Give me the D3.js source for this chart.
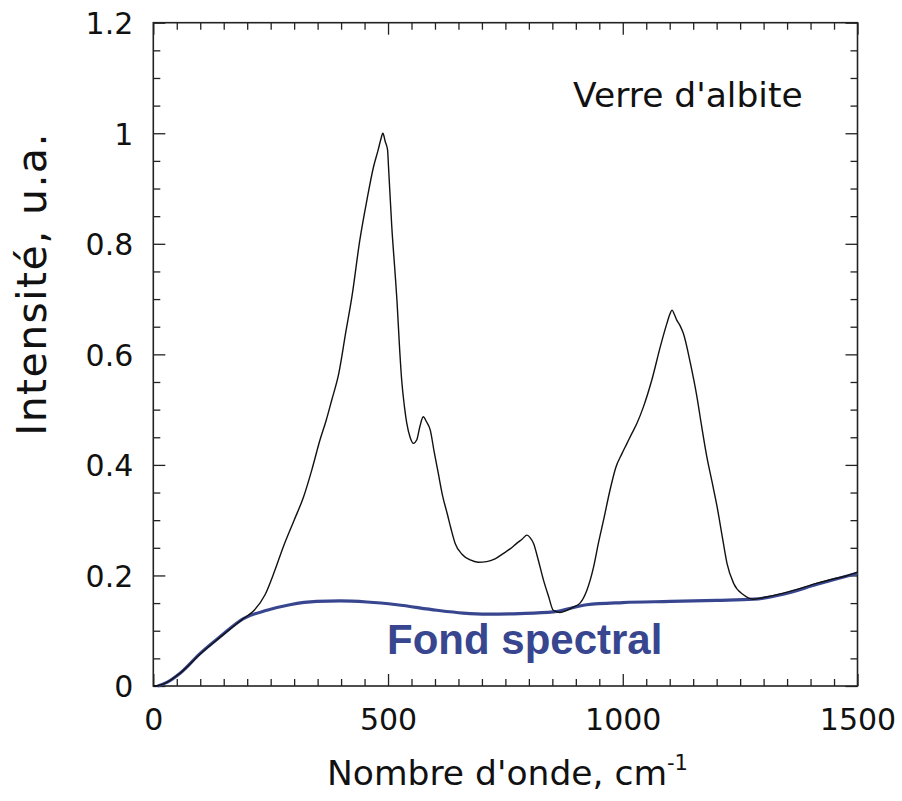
<!DOCTYPE html>
<html>
<head>
<meta charset="utf-8">
<script src="https://cdn.jsdelivr.net/npm/d3@7"></script>
<style>
  html, body { margin: 0; padding: 0; background: #fff; }
  svg { display: block; }
  text { font-family: "DejaVu Sans", Verdana, sans-serif; fill: #111; }
</style>
</head>
<body>
<svg id="chart" width="902" height="801"></svg>
<script>
// Raman spectrum of albite glass (wavenumber in cm-1, normalised intensity)
const spectrumWavenumber = [0, 20, 57, 100, 142, 192, 215, 238, 258, 277, 300, 320, 338, 355, 368, 380, 395, 410, 423, 440, 455, 469, 479, 485, 489, 494, 499, 501, 508, 515, 519, 524, 529, 535, 540, 547, 554, 561, 568, 575, 582, 590, 598, 607, 616, 626, 634, 643, 658, 675, 692, 710, 728, 746, 760, 774, 786, 796, 803, 810, 820, 831, 842, 852, 866, 881, 895, 909, 923, 938, 948, 959, 973, 985, 998, 1009, 1020, 1030, 1044, 1062, 1080, 1094, 1100, 1105, 1110, 1115, 1122, 1129, 1144, 1158, 1168, 1179, 1190, 1201, 1212, 1222, 1236, 1257, 1279, 1300, 1342, 1380, 1414, 1450, 1475, 1500];
const spectrumIntensity = [0, 0.003, 0.023, 0.058, 0.088, 0.122, 0.137, 0.165, 0.207, 0.252, 0.300, 0.342, 0.392, 0.445, 0.480, 0.517, 0.565, 0.640, 0.704, 0.807, 0.879, 0.939, 0.970, 0.990, 1.000, 0.985, 0.970, 0.940, 0.831, 0.747, 0.698, 0.620, 0.554, 0.505, 0.475, 0.450, 0.439, 0.445, 0.470, 0.487, 0.478, 0.463, 0.425, 0.385, 0.345, 0.312, 0.285, 0.258, 0.238, 0.228, 0.224, 0.225, 0.230, 0.240, 0.248, 0.258, 0.266, 0.273, 0.268, 0.258, 0.228, 0.192, 0.162, 0.137, 0.133, 0.137, 0.143, 0.150, 0.172, 0.216, 0.258, 0.300, 0.355, 0.395, 0.420, 0.439, 0.458, 0.475, 0.505, 0.554, 0.614, 0.656, 0.672, 0.680, 0.672, 0.662, 0.652, 0.638, 0.584, 0.523, 0.470, 0.415, 0.370, 0.324, 0.270, 0.222, 0.186, 0.165, 0.157, 0.160, 0.168, 0.177, 0.186, 0.194, 0.199, 0.206];

// Fitted spectral background
const backgroundWavenumber = [10, 30, 57, 100, 142, 192, 242, 291, 348, 398, 455, 519, 604, 660, 710, 780, 852, 923, 1000, 1101, 1200, 1279, 1342, 1414, 1500];
const backgroundIntensity = [0, 0.007, 0.023, 0.059, 0.089, 0.122, 0.137, 0.147, 0.153, 0.154, 0.152, 0.147, 0.137, 0.132, 0.130, 0.131, 0.134, 0.147, 0.151, 0.153, 0.155, 0.157, 0.166, 0.184, 0.204];

// Axis ticks
const xMajorTicks = [0, 500, 1000, 1500];
const yMajorTicks = [0, 0.2, 0.4, 0.6, 0.8, 1, 1.2];
const yTickLabels = ["0", "0.2", "0.4", "0.6", "0.8", "1", "1.2"];

const margin = { left: 153.3, right: 902 - 857.5, top: 22.7, bottom: 801 - 686 };
const W = 902, H = 801;
const svg = d3.select("#chart");

const x = d3.scaleLinear().domain([0, 1500]).range([margin.left, W - margin.right]);
const y = d3.scaleLinear().domain([0, 1.2]).range([H - margin.bottom, margin.top]);

const xMinor = d3.range(0, 1501, 50).filter(v => v % 500 !== 0);
const yMinor = d3.range(0, 25).map(i => i * 0.05).filter(v => Math.abs(v / 0.2 - Math.round(v / 0.2)) > 1e-6);

const minorLen = 7, majorLen = 12;
const tickColor = "#222";

// Inward ticks on all four sides
function drawTicks(axisFactory, scale, transform, majors, minors, labelFn) {
  const gMinor = svg.append("g").attr("transform", transform)
    .call(axisFactory(scale).tickValues(minors).tickSizeInner(-minorLen).tickSizeOuter(0).tickFormat(""));
  const gMajor = svg.append("g").attr("transform", transform)
    .call(axisFactory(scale).tickValues(majors).tickSizeInner(-majorLen).tickSizeOuter(0).tickFormat(labelFn || ""));
  [gMinor, gMajor].forEach(g => {
    g.select(".domain").remove();
    g.selectAll(".tick line").attr("stroke", tickColor).attr("stroke-width", 1.3);
  });
  return gMajor;
}

const gx = drawTicks(d3.axisBottom, x, `translate(0,${y(0)})`, xMajorTicks, xMinor, d => d3.format("d")(d));
gx.selectAll(".tick text").attr("font-size", 30).attr("y", 0).attr("dy", 0)
  .attr("transform", "translate(0,44)").attr("fill", "#111");
drawTicks(d3.axisTop, x, `translate(0,${y(1.2)})`, xMajorTicks, xMinor, null);

const gy = drawTicks(d3.axisLeft, y, `translate(${x(0)},0)`, yMajorTicks, yMinor, (d, i) => yTickLabels[i]);
gy.selectAll(".tick text").attr("font-size", 30).attr("x", -20).attr("dy", "0.36em").attr("fill", "#111");
drawTicks(d3.axisRight, y, `translate(${x(1500)},0)`, yMajorTicks, yMinor, null);

// Plot frame
svg.append("rect")
  .attr("x", x(0)).attr("y", y(1.2))
  .attr("width", x(1500) - x(0)).attr("height", y(0) - y(1.2))
  .attr("fill", "none").attr("stroke", "#222").attr("stroke-width", 1.6);

// Background curve
const bgData = backgroundWavenumber.map((w, i) => [w, backgroundIntensity[i]]);
svg.append("path")
  .datum(bgData)
  .attr("fill", "none")
  .attr("stroke", "#38468f")
  .attr("stroke-width", 3.2)
  .attr("d", d3.line().x(d => x(d[0])).y(d => y(d[1])).curve(d3.curveMonotoneX));

// Measured spectrum
const spData = spectrumWavenumber.map((w, i) => [w, spectrumIntensity[i]]);
svg.append("path")
  .datum(spData)
  .attr("fill", "none")
  .attr("stroke", "#111")
  .attr("stroke-width", 1.4)
  .attr("stroke-linejoin", "round")
  .attr("d", d3.line().x(d => x(d[0])).y(d => y(d[1])).curve(d3.curveMonotoneX));

// Annotations
svg.append("text")
  .attr("x", 573).attr("y", 107)
  .attr("font-size", 34.5)
  .text("Verre d'albite");

svg.append("text")
  .attr("x", 387).attr("y", 654)
  .attr("font-size", 42)
  .attr("font-weight", "bold")
  .style("font-family", "'Liberation Sans', Arial, sans-serif")
  .style("fill", "#38468f")
  .text("Fond spectral");

// Axis titles
const xTitle = svg.append("text")
  .attr("x", 327).attr("y", 785)
  .attr("font-size", 34.5);
xTitle.append("tspan").text("Nombre d'onde, cm");
xTitle.append("tspan").attr("font-size", 21).attr("dy", -15).text("-1");

svg.append("text")
  .attr("transform", `translate(46,${284}) rotate(-90)`)
  .attr("text-anchor", "middle")
  .attr("font-size", 41)
  .attr("letter-spacing", 1.4)
  .text("Intensité, u.a.");
</script>
</body>
</html>
